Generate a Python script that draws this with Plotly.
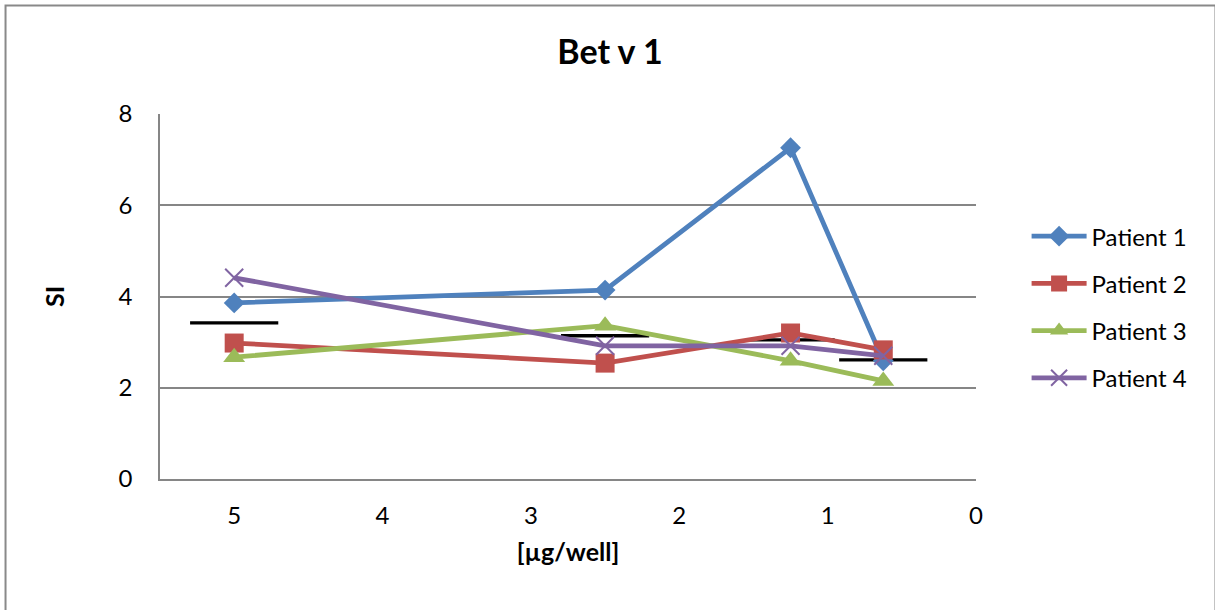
import plotly.graph_objects as go

# Allergen dose per well and stimulation index per patient
dose = [5, 2.5, 1.25, 0.625]
patient_1 = [3.86, 4.14, 7.26, 2.59]
patient_2 = [2.98, 2.54, 3.20, 2.83]
patient_3 = [2.67, 3.36, 2.59, 2.15]
patient_4 = [4.41, 2.92, 2.92, 2.70]
reference_level = [3.42, 3.14, 3.05, 2.61]

series = [
    ("Patient 1", patient_1, "#4F81BD", "diamond", 16),
    ("Patient 2", patient_2, "#C0504D", "square", 19),
    ("Patient 3", patient_3, "#9BBB59", "triangle-up", 19),
    ("Patient 4", patient_4, "#8064A2", "x-thin", 18),
]

FONT = "Lato, Carlito, Calibri, sans-serif"

fig = go.Figure()

# short horizontal bars for the reference level at each dose
fig.add_trace(go.Scatter(
    x=dose, y=reference_level, mode="markers", showlegend=False,
    hoverinfo="skip",
    marker=dict(symbol="line-ew", size=63, color="black",
                line=dict(color="black", width=3.3)),
))

for i, (name, vals, color, symbol, size) in enumerate(series):
    marker = dict(symbol=symbol, size=size, color=color)
    if symbol == "x-thin":
        marker["line"] = dict(color=color, width=2)
    fig.add_trace(go.Scatter(
        x=dose, y=vals, name=name, mode="lines+markers",
        legendgroup=f"g{i}",
        line=dict(color=color, width=4.8),
        marker=marker,
    ))

fig.update_layout(
    width=1215, height=610,
    margin=dict(l=160, r=239, t=114, b=131),
    paper_bgcolor="white", plot_bgcolor="white",
    font=dict(family=FONT, size=24, color="black"),
    title=dict(text="<b>Bet v 1</b>", x=0.502, xref="container",
               xanchor="center", y=0.915, yanchor="middle",
               font=dict(size=34, family=FONT)),
    legend=dict(x=1.062, xanchor="left", y=0.471, yanchor="middle",
                font=dict(size=24, family=FONT), itemwidth=55,
                tracegroupgap=13, bgcolor="rgba(0,0,0,0)"),
    xaxis=dict(range=[5.5, 0], tickvals=[5, 4, 3, 2, 1, 0],
               showgrid=False, zeroline=False,
               showline=True, linecolor="#868686", linewidth=1.5,
               ticks="", tickfont=dict(size=24), ticklabelstandoff=14,
               title=dict(text="<b>[µg/well]</b>", font=dict(size=25),
                          standoff=16)),
    yaxis=dict(range=[0, 8], tickvals=[0, 2, 4, 6, 8],
               showgrid=True, gridcolor="#868686", gridwidth=1.5,
               zeroline=False, showline=True, linecolor="#868686",
               linewidth=1.5, ticks="", tickfont=dict(size=24),
               ticklabelstandoff=21,
               title=dict(text="<b>SI</b>", font=dict(size=25), standoff=47)),
    shapes=[dict(type="rect", xref="paper", yref="paper",
                 x0=-0.1893, x1=1.2935, y0=-0.37, y1=1.2973,
                 line=dict(color="#898989", width=2), layer="below")],
)

fig.write_html("out.html")
